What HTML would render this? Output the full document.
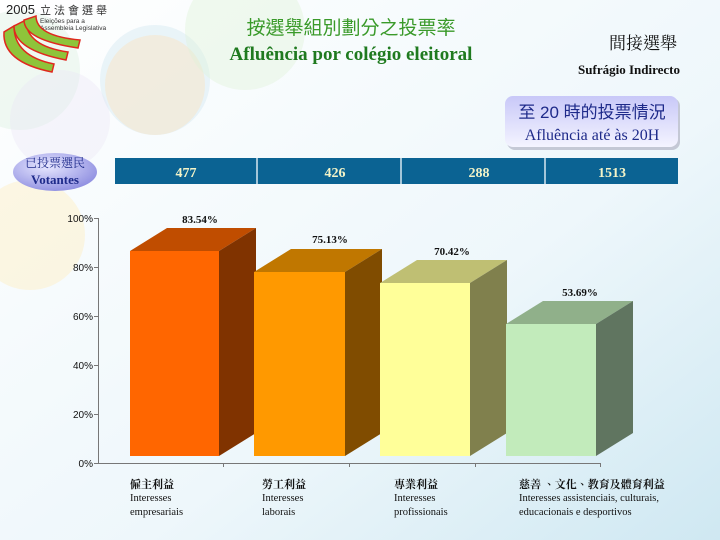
<!DOCTYPE html>
<html><head><meta charset="utf-8"><style>
body{margin:0;width:720px;height:540px;overflow:hidden;background:#fff;}
svg{display:block}
.s{font-family:"Liberation Serif","Noto Serif CJK SC",serif;}
.a{font-family:"Liberation Sans",sans-serif;}
</style></head><body>
<svg width="720" height="540" viewBox="0 0 720 540" xmlns="http://www.w3.org/2000/svg">
<defs>
<linearGradient id="bg" x1="0" y1="0" x2="1" y2="1"><stop offset="0" stop-color="#ffffff"/><stop offset="0.6" stop-color="#eef7fb"/><stop offset="1" stop-color="#cfe8f2"/></linearGradient>
<linearGradient id="box" x1="0" y1="0" x2="0" y2="1"><stop offset="0" stop-color="#c8c8f8"/><stop offset="1" stop-color="#f4f4ff"/></linearGradient>
<radialGradient id="ov" cx="0.4" cy="0.35" r="0.7"><stop offset="0" stop-color="#e8e8ff"/><stop offset="1" stop-color="#8d8de0"/></radialGradient>
</defs>
<rect width="720" height="540" fill="url(#bg)"/>
<circle cx="155" cy="80" r="55" fill="#cfe6f0" opacity="0.4"/>
<circle cx="155" cy="85" r="50" fill="#fde2b8" opacity="0.4"/>
<circle cx="245" cy="30" r="60" fill="#dff3d8" opacity="0.4"/>
<circle cx="20" cy="70" r="60" fill="#d8eedc" opacity="0.35"/>
<circle cx="30" cy="235" r="55" fill="#fdf0c8" opacity="0.5"/>
<circle cx="60" cy="120" r="50" fill="#e8e0f4" opacity="0.3"/>
<!-- logo -->
<text x="6" y="14" class="a" font-size="13" fill="#222">2005</text>
<text x="40" y="14" font-family="Noto Sans CJK TC,sans-serif" font-size="11" fill="#333" letter-spacing="3">立法會選舉</text>
<text x="40" y="23" class="a" font-size="6.5" fill="#333">Eleições para a</text>
<text x="40" y="30" class="a" font-size="6.5" fill="#333">Assembleia Legislativa</text>
<path d="M4 32 Q2 62 52 72 L54 64 Q14 56 14 26 Z" fill="#8ec43a" stroke="#e0281e" stroke-width="1.5"/>
<path d="M14 26 Q14 50 66 60 L68 52 Q26 46 26 20 Z" fill="#8ec43a" stroke="#e0281e" stroke-width="1.5"/>
<path d="M24 20 Q24 40 78 48 L80 40 Q36 36 36 16 Z" fill="#8ec43a" stroke="#e0281e" stroke-width="1.5"/>
<!-- titles -->
<text x="351" y="34" text-anchor="middle" font-family="Noto Sans CJK TC,sans-serif" font-size="19" fill="#3a9a2a">按選舉組別劃分之投票率</text>
<text x="351" y="60" text-anchor="middle" class="s" font-size="19" font-weight="bold" fill="#1f7a1f">Afluência por colégio eleitoral</text>
<text x="677" y="49" text-anchor="end" font-family="Noto Serif CJK TC,Noto Serif CJK SC,serif" font-size="17" fill="#111">間接選舉</text>
<text x="680" y="74" text-anchor="end" class="s" font-size="13" font-weight="bold" fill="#111">Sufrágio Indirecto</text>
<rect x="507" y="98" width="173" height="52" rx="8" fill="#9a9ab0" opacity="0.5"/>
<rect x="505" y="96" width="173" height="51" rx="8" fill="url(#box)"/>
<text x="592" y="118" text-anchor="middle" font-family="Liberation Sans,Noto Sans CJK TC,sans-serif" font-size="17" fill="#1e2a8a">至 20 時的投票情況</text>
<text x="592" y="140" text-anchor="middle" class="s" font-size="16" fill="#1e2a8a">Afluência até às 20H</text>
<!-- votantes -->
<ellipse cx="55" cy="172" rx="42" ry="19" fill="url(#ov)"/>
<text x="55" y="167" text-anchor="middle" font-family="Noto Serif CJK TC,serif" font-size="12" fill="#1e2a8a">已投票選民</text>
<text x="55" y="184" text-anchor="middle" class="s" font-size="13" font-weight="bold" fill="#1e2a8a">Votantes</text>
<rect x="115" y="158" width="563" height="26" fill="#0b6393"/>
<g stroke="#d8e8f0" stroke-width="1.5"><line x1="257" y1="158" x2="257" y2="184"/><line x1="401" y1="158" x2="401" y2="184"/><line x1="545" y1="158" x2="545" y2="184"/></g>
<g class="s" font-size="14" font-weight="bold" fill="#f4f4c8" text-anchor="middle">
<text x="186" y="177">477</text><text x="335" y="177">426</text><text x="479" y="177">288</text><text x="612" y="177">1513</text></g>
<!-- axes -->
<g stroke="#777" stroke-width="1" fill="none">
<line x1="98.5" y1="218" x2="98.5" y2="463"/><line x1="98" y1="463.5" x2="601" y2="463.5"/>
<path d="M94 218.5h4M94 267.5h4M94 316.5h4M94 365.5h4M94 414.5h4M94 463.5h4"/>
<path d="M223.5 463v4M349.5 463v4M475.5 463v4M600.5 463v4"/></g>
<g class="a" font-size="10" fill="#111" text-anchor="end">
<text x="93" y="222">100%</text><text x="93" y="271">80%</text><text x="93" y="320">60%</text><text x="93" y="369">40%</text><text x="93" y="418">20%</text><text x="93" y="467">0%</text></g>
<!-- bars -->
<g>
<polygon points="130,251 167,228 256,228 219,251" fill="#c04d00"/><polygon points="219,251 256,228 256,433 219,456" fill="#803300"/><rect x="130" y="251" width="89" height="205" fill="#ff6600"/>
<polygon points="254,272 291,249 382,249 345,272" fill="#c07700"/><polygon points="345,272 382,249 382,433 345,456" fill="#804c00"/><rect x="254" y="272" width="91" height="184" fill="#ff9900"/>
<polygon points="380,283 417,260 507,260 470,283" fill="#bfbf73"/><polygon points="470,283 507,260 507,433 470,456" fill="#80804d"/><rect x="380" y="283" width="90" height="173" fill="#ffff99"/>
<polygon points="506,324 543,301 633,301 596,324" fill="#90b08a"/><polygon points="596,324 633,301 633,433 596,456" fill="#607560"/><rect x="506" y="324" width="90" height="132" fill="#c2ebbb"/>
</g>
<g class="s" font-size="11" font-weight="bold" fill="#111" text-anchor="middle">
<text x="200" y="223">83.54%</text><text x="330" y="243">75.13%</text><text x="452" y="255">70.42%</text><text x="580" y="296">53.69%</text></g>
<g class="s" font-size="10.5" fill="#111">
<g font-family="Noto Serif CJK TC,serif" font-weight="bold" font-size="11">
<text x="130" y="488">僱主利益</text><text x="262" y="488">勞工利益</text><text x="394" y="488">專業利益</text><text x="519" y="488">慈善 、文化、教育及體育利益</text></g>
<text x="130" y="501">Interesses</text><text x="130" y="515">empresariais</text>
<text x="262" y="501">Interesses</text><text x="262" y="515">laborais</text>
<text x="394" y="501">Interesses</text><text x="394" y="515">profissionais</text>
<text x="519" y="501">Interesses assistenciais, culturais,</text><text x="519" y="515">educacionais e desportivos</text>
</g>
</svg>
</body></html>
